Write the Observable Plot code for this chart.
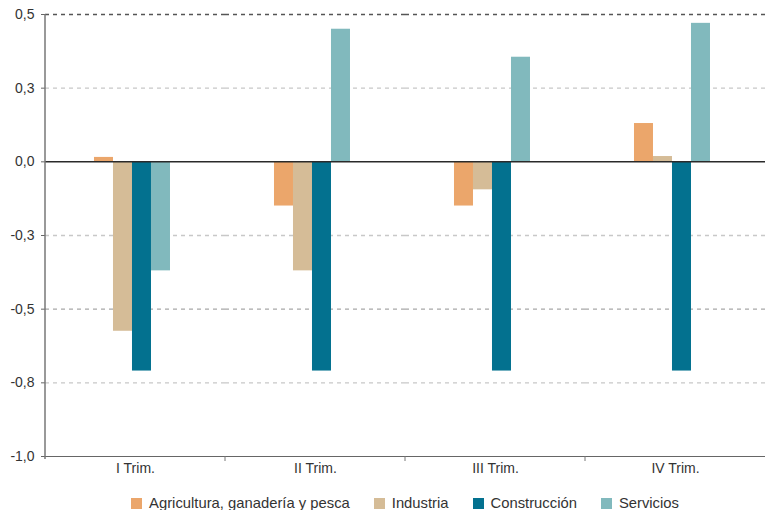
<!DOCTYPE html>
<html>
<head>
<meta charset="utf-8">
<script src="https://cdn.jsdelivr.net/npm/d3@7"></script>
<script src="https://cdn.jsdelivr.net/npm/@observablehq/plot@0.6"></script>
<style>
  html, body { margin: 0; padding: 0; background: #fff; }
  #legend { display: flex; justify-content: center; align-items: center; padding-left: 45px;
    margin-top: 15px; font-family: "Liberation Sans", Arial, sans-serif; font-size: 14.8px; color: #333; line-height: 14px; }
  .item { display: flex; align-items: center; margin: 0 12px; }
  .sw { width: 11px; height: 11px; margin-right: 7px; }
</style>
</head>
<body>
<div id="chart"></div>
<div id="legend"></div>
<script>
const quarters = ["I Trim.", "II Trim.", "III Trim.", "IV Trim."];
const sectors = ["Agricultura, ganadería y pesca", "Industria", "Construcción", "Servicios"];
const agricultura = [0.015, -0.15, -0.15, 0.13];
const industria = [-0.575, -0.37, -0.095, 0.018];
const construccion = [-0.71, -0.71, -0.71, -0.71];
const servicios = [-0.37, 0.45, 0.355, 0.47];
const colors = ["#EBA66B", "#D5BC97", "#03718F", "#81B9BD"];
const yTicks = [0.5, 0.25, 0, -0.25, -0.5, -0.75, -1];
const yTickLabels = ["0,5", "0,3", "0,0", "-0,3", "-0,5", "-0,8", "-1,0"];
const gridDark = [0.5];
const gridMid = [-0.5];
const gridLight = [0.25, -0.25, -0.75];

const series = [agricultura, industria, construccion, servicios];
const rows = [];
quarters.forEach((q, i) => sectors.forEach((s, j) => rows.push({quarter: q, sector: s, value: series[j][i]})));

const chart = Plot.plot({
  width: 765, height: 481,
  marginLeft: 45, marginRight: 0, marginTop: 14, marginBottom: 25,
  style: {fontFamily: "'Liberation Sans', Arial, sans-serif", color: "#333", background: "white"},
  fx: {domain: quarters, padding: 0, round: false, label: null},
  x: {domain: sectors, paddingInner: 0, paddingOuter: 2.737, align: 0.471, round: false, axis: null},
  y: {domain: [-1, 0.5], label: null},
  color: {domain: sectors, range: colors},
  marks: [
    Plot.ruleY(gridLight, {stroke: "#c8c8c8", strokeWidth: 1.3, strokeDasharray: "4,4"}),
    Plot.ruleY(gridMid, {stroke: "#a8a8a8", strokeWidth: 1.3, strokeDasharray: "4,4"}),
    Plot.ruleY(gridDark, {stroke: "#555", strokeWidth: 1.3, strokeDasharray: "4,4"}),
    Plot.barY(rows, {fx: "quarter", x: "sector", y: "value", fill: "sector"}),
    Plot.ruleY([0], {stroke: "#2a2a2a", strokeWidth: 1.5}),
    Plot.ruleY([-1], {stroke: "#666", strokeWidth: 1.2}),
    Plot.axisY({ticks: yTicks, tickFormat: d => yTickLabels[yTicks.indexOf(d)], tickSize: 4, tickPadding: 7, fontSize: 14, stroke: "#666", label: null}),
    Plot.axisFx({anchor: "bottom", tickSize: 0, tickPadding: 7, label: null, fontSize: 14})
  ]
});
document.getElementById("chart").appendChild(chart);

// y-axis line and category separator ticks, positioned with the chart's own scales
const ys = chart.scale("y"), fxs = chart.scale("fx");
const svg = d3.select(chart);
svg.append("line")
  .attr("x1", 45).attr("x2", 45)
  .attr("y1", ys.apply(0.5)).attr("y2", ys.apply(-1) + 3)
  .attr("stroke", "#777").attr("stroke-width", 1.5);
quarters.slice(0, -1).forEach(q => {
  const x = fxs.apply(q) + fxs.bandwidth;
  svg.append("line").attr("x1", x).attr("x2", x)
    .attr("y1", ys.apply(-1)).attr("y2", ys.apply(-1) + 5)
    .attr("stroke", "#777").attr("stroke-width", 1);
});

const legend = d3.select("#legend");
sectors.forEach((s, i) => {
  const it = legend.append("div").attr("class", "item");
  it.append("div").attr("class", "sw").style("background", colors[i]);
  it.append("span").text(s);
});
</script>
</body>
</html>
